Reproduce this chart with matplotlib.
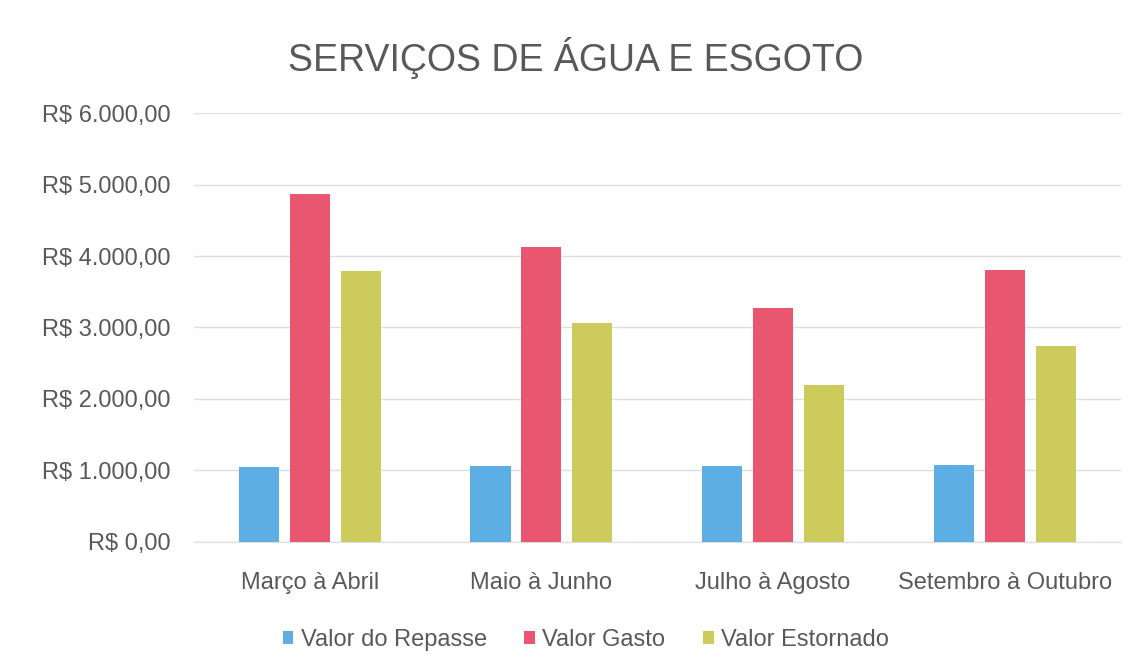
import matplotlib
matplotlib.use("Agg")
import matplotlib.pyplot as plt
import numpy as np
from matplotlib.ticker import FuncFormatter

categories = ["Março à Abril", "Maio à Junho", "Julho à Agosto", "Setembro à Outubro"]
series_names = ["Valor do Repasse", "Valor Gasto", "Valor Estornado"]
valor_repasse = [1050, 1060, 1060, 1070]
valor_gasto = [4870, 4130, 3270, 3810]
valor_estornado = [3790, 3060, 2190, 2740]
colors = ["#5eaee6", "#e9566f", "#cccb5c"]
yticks = [0, 1000, 2000, 3000, 4000, 5000, 6000]

plt.rcParams['font.family'] = ['Liberation Sans', 'DejaVu Sans']
text_color = "#595959"

fig = plt.figure(figsize=(11.35, 6.69), dpi=100)
ax = fig.add_axes([0.1709, 0.190, 0.8164, 0.641])

x = np.arange(len(categories))
width = 0.173
pitch = 0.22
for i, (vals, name) in enumerate(zip([valor_repasse, valor_gasto, valor_estornado], series_names)):
    ax.bar(x + (i - 1) * pitch, vals, width, color=colors[i], label=name, zorder=3)

ax.set_xlim(-0.5, len(categories) - 0.5)
ax.set_ylim(0, 6000)
ax.set_yticks(yticks)

def fmt(v, pos):
    s = f"{v:,.2f}".replace(",", "X").replace(".", ",").replace("X", ".")
    return "R$ " + s
ax.yaxis.set_major_formatter(FuncFormatter(fmt))
ax.set_xticks(x)
ax.set_xticklabels(categories)
ax.tick_params(axis='both', length=0, labelsize=17, colors=text_color)
ax.tick_params(axis='y', pad=17)
ax.tick_params(axis='x', pad=22)
ax.grid(axis='y', color="#dedede", linewidth=1, zorder=0)
for s in ax.spines.values():
    s.set_visible(False)
ax.spines['bottom'].set_visible(True)
ax.spines['bottom'].set_color("#dedede")

fig.text(0.5075, 0.913, "SERVIÇOS DE ÁGUA E ESGOTO", ha='center', va='center',
         fontsize=27, color=text_color)

leg = fig.legend(loc='center', bbox_to_anchor=(0.516, 0.043), ncol=3, frameon=False,
                 fontsize=17, handlelength=0.45, handleheight=0.45, handletextpad=0.3,
                 columnspacing=1.6)
for t in leg.get_texts():
    t.set_color(text_color)

fig.savefig("out.png", dpi=100, facecolor="white")
